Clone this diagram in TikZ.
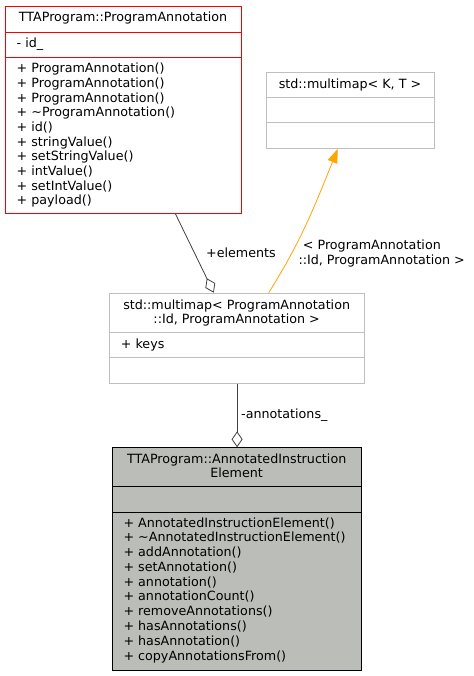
\documentclass[tikz,border=0pt]{standalone}
\usepackage{fontspec}
\setmainfont{DejaVu Sans}
\usetikzlibrary{arrows.meta}
\definecolor{boxgray}{HTML}{BFBFBF}
\definecolor{fillgray}{HTML}{BBBDB9}
\definecolor{edgegray}{HTML}{404040}
\definecolor{tplorange}{HTML}{FFA500}
\begin{document}
\begin{tikzpicture}[x=1pt,y=-1pt,
  txt/.style={inner sep=0pt, font=\fontsize{12.7}{14.7}\selectfont},
  umlbox/.style={anchor=north west, inner sep=0pt, line width=0.9pt},
  sep/.style={line width=0.9pt},
  aggr/.style={edgegray, line width=0.8pt, -{Diamond[open, fill=white, length=16pt, width=11pt, line width=0.8pt]}},
  tpl/.style={tplorange, line width=0.8pt, -{Triangle[length=14pt, width=10pt]}}]
\useasboundingbox (0,0) rectangle (473,676);
\fill[white] (0,0) rectangle (473,676);

% ProgramAnnotation
\node[umlbox, draw=red, minimum width=236pt, minimum height=207pt] (pa) at (5,6) {};
\draw[sep, red] ([yshift=-26pt]pa.north west) -- ([yshift=-26pt]pa.north east);
\draw[sep, red] ([yshift=-51pt]pa.north west) -- ([yshift=-51pt]pa.north east);
\node[txt, anchor=base] (pa-title) at (123,22) {TTAProgram::ProgramAnnotation};
\node[txt, anchor=base west] (pa-attr) at (16.5,47.5) {- id\_};
\foreach \t [count=\i from 0] in {+ ProgramAnnotation(), + ProgramAnnotation(), + ProgramAnnotation(), + \textasciitilde ProgramAnnotation(), + id(), + stringValue(), + setStringValue(), + intValue(), + setIntValue(), + payload()}
  \node[txt, anchor=base west] (pa-m\i) at (16.5,73+14.65*\i) {\t};

% std::multimap< K, T >
\node[umlbox, draw=boxgray, minimum width=168pt, minimum height=76pt] (mk) at (266,72) {};
\draw[sep, boxgray] ([yshift=-25pt]mk.north west) -- ([yshift=-25pt]mk.north east);
\draw[sep, boxgray] ([yshift=-50pt]mk.north west) -- ([yshift=-50pt]mk.north east);
\node[txt, anchor=base] (mk-title) at (350,88.5) {std::multimap< K, T >};

% std::multimap< ProgramAnnotation::Id, ProgramAnnotation >
\node[umlbox, draw=boxgray, minimum width=254.7pt, minimum height=90.6pt] (mm) at (109.3,292.7) {};
\draw[sep, boxgray] ([yshift=-39.6pt]mm.north west) -- ([yshift=-39.6pt]mm.north east);
\draw[sep, boxgray] ([yshift=-65pt]mm.north west) -- ([yshift=-65pt]mm.north east);
\node[txt, anchor=base] (mm-title1) at (236.65,309) {std::multimap< ProgramAnnotation};
\node[txt, anchor=base] (mm-title2) at (236.65,323.6) {::Id, ProgramAnnotation >};
\node[txt, anchor=base west] (mm-attr) at (120.7,348.3) {+ keys};

% AnnotatedInstructionElement
\node[umlbox, draw=black, fill=fillgray, minimum width=248.7pt, minimum height=222.4pt] (ae) at (112.3,447.3) {};
\draw[sep, black] ([yshift=-39.4pt]ae.north west) -- ([yshift=-39.4pt]ae.north east);
\draw[sep, black] ([yshift=-65pt]ae.north west) -- ([yshift=-65pt]ae.north east);
\node[txt, anchor=base] (ae-title1) at (236.65,463) {TTAProgram::AnnotatedInstruction};
\node[txt, anchor=base] (ae-title2) at (236.65,477.6) {Element};
\foreach \t [count=\i from 0] in {+ AnnotatedInstructionElement(), + \textasciitilde AnnotatedInstructionElement(), + addAnnotation(), + setAnnotation(), + annotation(), + annotationCount(), + removeAnnotations(), + hasAnnotations(), + hasAnnotation(), + copyAnnotationsFrom()}
  \node[txt, anchor=base west] (ae-m\i) at (123.3,527+14.78*\i) {\t};

% connectors
\draw[aggr] ([xshift=52pt]pa.south) -- ([xshift=-23.3pt]mm.north);
\draw[tpl] ([xshift=31.65pt]mm.north) to[out=58, in=248] ([xshift=-12.7pt]mk.south);
\draw[aggr] (mm.south) -- (ae.north);

% labels
\node[txt, anchor=base west] (lbl-el) at (206,257) {+elements};
\node[txt, anchor=base west] (lbl-tpl1) at (302.7,249) {< ProgramAnnotation};
\node[txt, anchor=base west] (lbl-tpl2) at (298.3,264) {::Id, ProgramAnnotation >};
\node[txt, anchor=base west] (lbl-an) at (241,418) {-annotations\_};
\end{tikzpicture}
\end{document}
